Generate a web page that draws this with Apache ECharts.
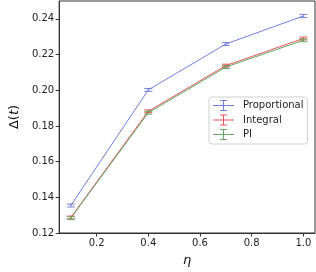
<!DOCTYPE html>
<html><head><meta charset="utf-8">
<script src="https://cdn.jsdelivr.net/npm/echarts@6/dist/echarts.min.js"></script>
<style>html,body{margin:0;padding:0;background:#fff}#c{width:316px;height:272px}</style>
</head><body><div id="c"></div>
<script>
const etaValues = [0.1, 0.4, 0.7, 1.0];
const propMean = [0.1354, 0.2002, 0.2259, 0.2416];
const propErr  = [0.0008, 0.0008, 0.0008, 0.0009];
const intMean  = [0.1287, 0.1882, 0.2138, 0.2290];
const intErr   = [0.0008, 0.0008, 0.0008, 0.0008];
const piMean   = [0.1283, 0.1874, 0.2130, 0.2280];
const piErr    = [0.0008, 0.0008, 0.0008, 0.0008];
const xTicks = [0.2, 0.4, 0.6, 0.8, 1.0];
const yTicks = [0.12, 0.14, 0.16, 0.18, 0.20, 0.22, 0.24];
const names = ['Proportional', 'Integral', 'PI'];
const colors = ['#6f7fd6', '#e65458', '#62a862'];

const font = 'DejaVu Sans';
const chart = echarts.init(document.getElementById('c'), null, {renderer: 'canvas'});

function errData(m, e) { return etaValues.map((x, i) => [x, m[i] - e[i], m[i] + e[i]]); }
function lineData(m) { return etaValues.map((x, i) => [x, m[i]]); }

function errRender(color) {
  return function (params, api) {
    const x = api.value(0), lo = api.value(1), hi = api.value(2);
    const a = api.coord([x, lo]), b = api.coord([x, hi]);
    const w = 4;
    const st = {stroke: color, lineWidth: 1, fill: null};
    return {type: 'group', children: [
      {type: 'line', shape: {x1: a[0], y1: a[1], x2: b[0], y2: b[1]}, style: st},
      {type: 'line', shape: {x1: a[0] - w, y1: a[1], x2: a[0] + w, y2: a[1]}, style: st},
      {type: 'line', shape: {x1: b[0] - w, y1: b[1], x2: b[0] + w, y2: b[1]}, style: st}
    ]};
  };
}

const means = [propMean, intMean, piMean];
const errs = [propErr, intErr, piErr];
const series = [];
const icon = 'path://M0,5h21v1h-21z M10,0h1v11h-1z M7,0h7v1h-7z M7,10h7v1h-7z';
for (let k = 0; k < 3; k++) {
  series.push({
    name: names[k] + ' line', type: 'line', data: lineData(means[k]), showSymbol: false, symbol: 'none',
    lineStyle: {color: colors[k], width: 1}, itemStyle: {color: colors[k]}, z: 2, silent: true, animation: false
  });
  series.push({
    name: names[k] + ' err', type: 'custom', data: errData(means[k], errs[k]),
    renderItem: errRender(colors[k]), encode: {x: 0, y: [1, 2]}, z: 3, silent: true, animation: false,
    itemStyle: {color: colors[k]}
  });
  series.push({
    name: names[k], type: 'scatter', data: [], symbol: icon,
    itemStyle: {color: colors[k]}, silent: true, animation: false
  });
}

chart.setOption({
  animation: false,
  grid: {left: 44, right: 1, top: 1, bottom: 32, show: true, borderColor: '#333', borderWidth: 1, backgroundColor: 'transparent'},
  legend: {
    data: names.map((n, k) => ({name: n, icon: icon, itemStyle: {color: colors[k], borderWidth: 0, opacity: 1}})),
    orient: 'vertical', left: 209, top: 97,
    itemWidth: 21, itemHeight: 11, itemGap: 3.5,
    padding: [3, 4, 4, 4],
    borderColor: '#d0d0d0', borderWidth: 1, borderRadius: 3, backgroundColor: 'rgba(255,255,255,0.85)',
    textStyle: {fontFamily: font, fontSize: 10, color: '#222', padding: [0, 0, 0, 4]}
  },
  xAxis: {
    type: 'value', min: 0.055, max: 1.045,
    name: '{i|η}', nameLocation: 'middle', nameGap: 21,
    nameTextStyle: {rich: {i: {fontFamily: font, fontStyle: 'italic', fontSize: 13, color: '#111'}}},
    axisLine: {show: true, lineStyle: {color: '#333', width: 1}},
    axisTick: {show: true, length: 3.5, inside: false, customValues: xTicks, lineStyle: {color: '#333'}},
    axisLabel: {customValues: xTicks, fontFamily: font, fontSize: 10, color: '#222', margin: 5,
      formatter: v => v.toFixed(1)},
    splitLine: {show: false}
  },
  yAxis: {
    type: 'value', min: 0.12, max: 0.25,
    name: '{a|Δ(}{i|t}{a|)}', nameLocation: 'middle', nameGap: 31, nameRotate: 90,
    nameTextStyle: {rich: {
      a: {fontFamily: font, fontSize: 13, color: '#111'},
      i: {fontFamily: font, fontSize: 13, fontStyle: 'italic', color: '#111'}
    }},
    axisLine: {show: true, lineStyle: {color: '#333', width: 1}},
    axisTick: {show: true, length: 3.5, customValues: yTicks, lineStyle: {color: '#333'}},
    axisLabel: {customValues: yTicks, fontFamily: font, fontSize: 10, color: '#222', margin: 5,
      formatter: v => v.toFixed(2)},
    splitLine: {show: false}
  },
  series: series
});
</script></body></html>
